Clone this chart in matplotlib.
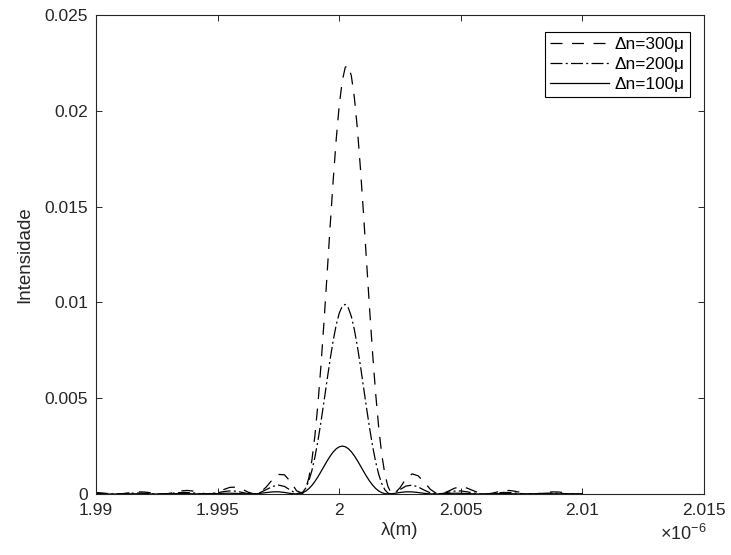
import numpy as np
import matplotlib
matplotlib.use("Agg")
import matplotlib.pyplot as plt

plt.rcParams["font.family"] = ["Liberation Sans", "DejaVu Sans"]
plt.rcParams["mathtext.fontset"] = "custom"
plt.rcParams["mathtext.rm"] = "Liberation Sans"

# Wavelength samples (micrometres); finer spacing across the main lobe
wavelength_um = [
    1.99000, 1.99025, 1.99050, 1.99075, 1.99100, 1.99125, 1.99150, 1.99175,
    1.99200, 1.99225, 1.99250, 1.99275, 1.99300, 1.99325, 1.99350, 1.99375,
    1.99400, 1.99425, 1.99450, 1.99475, 1.99500, 1.99525, 1.99550, 1.99575,
    1.99600, 1.99625, 1.99650, 1.99675, 1.99700, 1.99725, 1.99750, 1.99775,
    1.99800, 1.99825, 1.99850,
    1.998625, 1.99875, 1.998875, 1.99900, 1.999125, 1.99925, 1.999375, 1.99950,
    1.999625, 1.99975, 1.999875, 2.00000, 2.000125, 2.00025, 2.000375, 2.00050,
    2.000625, 2.00075, 2.000875, 2.00100, 2.001125, 2.00125, 2.001375, 2.00150,
    2.001625, 2.00175, 2.001875, 2.00200, 2.002125,
    2.00225, 2.00250, 2.00275, 2.00300, 2.00325, 2.00350, 2.00375,
    2.00400, 2.00425, 2.00450, 2.00475, 2.00500, 2.00525, 2.00550, 2.00575,
    2.00600, 2.00625, 2.00650, 2.00675, 2.00700, 2.00725, 2.00750, 2.00775,
    2.00800, 2.00825, 2.00850, 2.00875, 2.00900, 2.00925, 2.00950, 2.00975,
    2.01000,
]

# Reflected intensity for each index modulation
intensity_dn300 = [
    7.38e-5, 5.40e-5, 2.28e-5, 1.6e-6, 7.2e-6, 4.07e-5, 8.42e-5, 1.110e-4,
    1.032e-4, 6.38e-5, 1.84e-5, 2e-7, 2.84e-5, 9.39e-5, 1.605e-4, 1.867e-4,
    1.524e-4, 7.66e-5, 1.10e-5, 1.02e-5, 9.52e-5, 2.319e-4, 3.451e-4, 3.605e-4,
    2.580e-4, 9.81e-5, 1.4e-6, 8.09e-5, 3.633e-4, 7.448e-4, 1.0217e-3, 1.0015e-3,
    6.426e-4, 1.629e-4, 3.27e-5,
    2.836e-4, 8.358e-4, 1.7434e-3, 3.0316e-3, 4.698e-3, 6.705e-3, 8.984e-3, 1.1431e-2,
    1.3927e-2, 1.6323e-2, 1.8476e-2, 2.0265e-2, 2.1554e-2, 2.2277e-2, 2.2359e-2, 2.1820e-2,
    2.0673e-2, 1.9029e-2, 1.6959e-2, 1.4614e-2, 1.2131e-2, 9.657e-3, 7.319e-3, 5.228e-3,
    3.461e-3, 2.065e-3, 1.0533e-3, 4.052e-4, 7.6e-5,
    2.4e-6, 3.243e-4, 8.032e-4, 1.0504e-3, 9.482e-4, 6.077e-4, 2.420e-4,
    2.77e-5, 2.08e-5, 1.555e-4, 3.064e-4, 3.691e-4, 3.124e-4, 1.810e-4, 5.57e-5,
    6e-7, 2.96e-5, 1.058e-4, 1.714e-4, 1.840e-4, 1.392e-4, 6.79e-5, 1.28e-5,
    1.9e-6, 3.33e-5, 8.03e-5, 1.103e-4, 1.047e-4, 6.90e-5, 2.62e-5, 1.6e-6,
    6.7e-6,
]

intensity_dn200 = [
    3.02e-5, 1.85e-5, 5.3e-6, 0.0, 7.9e-6, 2.58e-5, 4.34e-5, 4.97e-5,
    3.98e-5, 1.96e-5, 2.8e-6, 2.5e-6, 2.29e-5, 5.43e-5, 7.86e-5, 7.96e-5,
    5.51e-5, 2.02e-5, 3e-7, 1.53e-5, 6.51e-5, 1.259e-4, 1.617e-4, 1.468e-4,
    8.62e-5, 1.97e-5, 3.5e-6, 7.62e-5, 2.272e-4, 3.892e-4, 4.669e-4, 3.945e-4,
    1.962e-4, 1.61e-5, 9.32e-5,
    3.088e-4, 6.774e-4, 1.2120e-3, 1.9175e-3, 2.7747e-3, 3.7608e-3, 4.832e-3, 5.936e-3,
    7.009e-3, 7.989e-3, 8.811e-3, 9.432e-3, 9.801e-3, 9.896e-3, 9.712e-3, 9.261e-3,
    8.568e-3, 7.687e-3, 6.673e-3, 5.581e-3, 4.484e-3, 3.435e-3, 2.485e-3, 1.673e-3,
    1.0227e-3, 5.415e-4, 2.244e-4, 5.25e-5, 0.0,
    3.45e-5, 2.320e-4, 4.165e-4, 4.637e-4, 3.664e-4, 2.000e-4, 5.83e-5,
    6e-7, 2.84e-5, 9.77e-5, 1.528e-4, 1.590e-4, 1.169e-4, 5.55e-5, 1.02e-5,
    1.4e-6, 2.55e-5, 6.03e-5, 8.13e-5, 7.59e-5, 4.92e-5, 1.85e-5, 1.1e-6,
    4.6e-6, 2.31e-5, 4.24e-5, 4.98e-5, 4.11e-5, 2.26e-5, 5.8e-6, 0.0,
    7.1e-6,
]

intensity_dn100 = [
    6.6e-6, 3.2e-6, 4e-7, 4e-7, 3.6e-6, 8.5e-6, 1.21e-5, 1.20e-5,
    8.2e-6, 2.9e-6, 0.0, 2.1e-6, 8.8e-6, 1.67e-5, 2.08e-5, 1.83e-5,
    1.04e-5, 2.3e-6, 4e-7, 8.0e-6, 2.27e-5, 3.67e-5, 4.10e-5, 3.19e-5,
    1.44e-5, 1.1e-6, 5.3e-6, 3.28e-5, 7.48e-5, 1.100e-4, 1.155e-4, 8.20e-5,
    2.77e-5, 3e-7, 6.42e-5,
    1.492e-4, 2.757e-4, 4.451e-4, 6.546e-4, 8.981e-4, 1.1653e-3, 1.4433e-3, 1.717e-3,
    1.971e-3, 2.188e-3, 2.3556e-3, 2.461e-3, 2.500e-3, 2.467e-3, 2.366e-3, 2.204e-3,
    1.9894e-3, 1.738e-3, 1.4654e-3, 1.187e-3, 9.185e-4, 6.728e-4, 4.603e-4, 2.878e-4,
    1.577e-4, 6.95e-5, 1.93e-5, 6e-7, 5.6e-6,
    2.58e-5, 8.00e-5, 1.149e-4, 1.109e-4, 7.64e-5, 3.43e-5, 6.0e-6,
    8e-7, 1.37e-5, 3.13e-5, 4.09e-5, 3.70e-5, 2.34e-5, 8.5e-6, 5e-7,
    2.0e-6, 1.00e-5, 1.80e-5, 2.08e-5, 1.69e-5, 9.2e-6, 2.3e-6, 0.0,
    2.8e-6, 8.0e-6, 1.19e-5, 1.21e-5, 8.7e-6, 3.8e-6, 5e-7, 4e-7,
    3.1e-6,
]

series_labels = ["Δn=300μ", "Δn=200μ", "Δn=100μ"]
x_ticks = [1.99, 1.995, 2.0, 2.005, 2.01, 2.015]
x_tick_labels = ["1.99", "1.995", "2", "2.005", "2.01", "2.015"]
y_ticks = [0, 0.005, 0.01, 0.015, 0.02, 0.025]
y_tick_labels = ["0", "0.005", "0.01", "0.015", "0.02", "0.025"]

axis_gray = "#262626"

fig = plt.figure(figsize=(7.31, 5.55), dpi=100)
ax = fig.add_axes([96 / 731, 61 / 555, 608 / 731, 479 / 555])

styles = [(0, (9.6, 7.6)), (0, (9.6, 2.6, 1.6, 2.6)), "-"]
for y, lab, ls in zip([intensity_dn300, intensity_dn200, intensity_dn100],
                      series_labels, styles):
    ax.plot(wavelength_um, y, color="black", linewidth=0.9, linestyle=ls, label=lab)

ax.set_xlim(1.99, 2.015)
ax.set_ylim(0, 0.025)
ax.set_xticks(x_ticks)
ax.set_xticklabels(x_tick_labels)
ax.set_yticks(y_ticks)
ax.set_yticklabels(y_tick_labels)

ax.tick_params(direction="in", length=4.5, width=0.7, colors=axis_gray,
               labelsize=12.5, top=True, right=True)
ax.tick_params(axis="x", pad=6.5)
ax.tick_params(axis="y", pad=5.5)
for s in ax.spines.values():
    s.set_color(axis_gray)
    s.set_linewidth(0.8)

ax.set_xlabel("λ(m)", fontsize=13.5, color=axis_gray, labelpad=3)
ax.set_ylabel("Intensidade", fontsize=13.5, color=axis_gray, labelpad=8.5)

fig.text(707 / 731, 1 - 534 / 555, r"$\times\mathregular{10^{-6}}$",
         ha="right", va="center", fontsize=13, color=axis_gray)

leg = ax.legend(loc="upper right", bbox_to_anchor=((690 - 96) / 608, (494 - 32) / 479),
                borderaxespad=0, fontsize=12.4, frameon=True, fancybox=False,
                edgecolor="black", framealpha=1, handlelength=3.4,
                handletextpad=0.35, labelspacing=0.28, borderpad=0.3)
leg.get_frame().set_linewidth(0.8)

fig.savefig("out.png", dpi=100)
